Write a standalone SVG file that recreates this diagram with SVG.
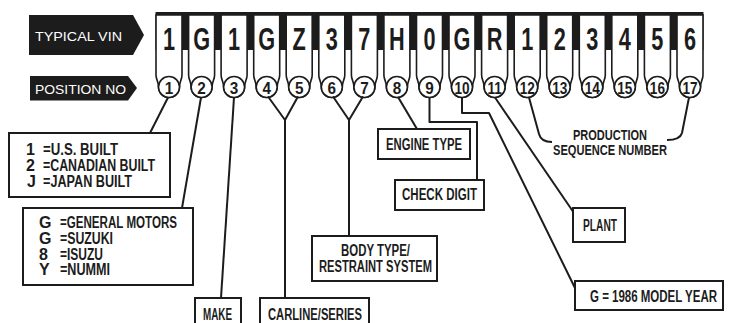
<svg xmlns="http://www.w3.org/2000/svg" width="729" height="323" viewBox="0 0 729 323">
<style>
.bg{fill:#ffffff}
.ink{fill:#1c1c1c}
.box{fill:#ffffff;stroke:#1c1c1c;stroke-width:2}
.cell{fill:#ffffff;stroke:#1c1c1c;stroke-width:1.6}
.circ{fill:#ffffff;stroke:#1c1c1c;stroke-width:1.6}
.ln{fill:none;stroke:#1c1c1c;stroke-width:2;stroke-linejoin:round}
.t{font-family:"Liberation Sans",Arial,sans-serif;font-weight:bold;font-size:16px;fill:#1c1c1c}
.big{font-family:"Liberation Sans",Arial,sans-serif;font-weight:bold;font-size:31px;fill:#1c1c1c;text-anchor:middle}
.num{font-family:"Liberation Sans",Arial,sans-serif;font-weight:bold;font-size:17px;fill:#1c1c1c;text-anchor:middle}
.lab{font-family:"Liberation Sans",Arial,sans-serif;font-size:12.5px;fill:#ffffff}
</style>
<defs>
<path id="cellShape" d="M-13,15 V75 C-13,80 -10.5,81 -10.5,87 A10.5,10.5 0 0 0 10.5,87 C10.5,81 13,80 13,75 V15 Z"/>
</defs>
<rect class="bg" x="0" y="0" width="729" height="323"/>

<g id="label-typical-vin">
<path class="ink" d="M29,15 H133 L144,35 L133,55 H29 Z"/>
<text class="lab" x="35" y="40.5" textLength="87" lengthAdjust="spacingAndGlyphs">TYPICAL VIN</text>
</g>
<g id="label-position-no">
<path class="ink" d="M30,76 H128 L137,88 L128,100.5 H30 Z"/>
<text class="lab" x="35" y="93.5" textLength="91" lengthAdjust="spacingAndGlyphs">POSITION NO</text>
</g>

<g id="vin-strip">
<rect class="ink" x="155.5" y="12" width="548" height="38"/>
<g id="pos1"><use href="#cellShape" class="cell" x="169"/><circle class="circ" cx="169" cy="87" r="10.5"/><text class="big" transform="translate(169 50) scale(0.7 1)">1</text><text class="num" transform="translate(169 93.8) scale(0.9 1)">1</text></g>
<g id="pos2"><use href="#cellShape" class="cell" x="201.6"/><circle class="circ" cx="201.6" cy="87" r="10.5"/><text class="big" transform="translate(201.6 50) scale(0.7 1)">G</text><text class="num" transform="translate(201.6 93.8) scale(0.9 1)">2</text></g>
<g id="pos3"><use href="#cellShape" class="cell" x="234.1"/><circle class="circ" cx="234.1" cy="87" r="10.5"/><text class="big" transform="translate(234.1 50) scale(0.7 1)">1</text><text class="num" transform="translate(234.1 93.8) scale(0.9 1)">3</text></g>
<g id="pos4"><use href="#cellShape" class="cell" x="266.7"/><circle class="circ" cx="266.7" cy="87" r="10.5"/><text class="big" transform="translate(266.7 50) scale(0.7 1)">G</text><text class="num" transform="translate(266.7 93.8) scale(0.9 1)">4</text></g>
<g id="pos5"><use href="#cellShape" class="cell" x="299.2"/><circle class="circ" cx="299.2" cy="87" r="10.5"/><text class="big" transform="translate(299.2 50) scale(0.7 1)">Z</text><text class="num" transform="translate(299.2 93.8) scale(0.9 1)">5</text></g>
<g id="pos6"><use href="#cellShape" class="cell" x="331.8"/><circle class="circ" cx="331.8" cy="87" r="10.5"/><text class="big" transform="translate(331.8 50) scale(0.7 1)">3</text><text class="num" transform="translate(331.8 93.8) scale(0.9 1)">6</text></g>
<g id="pos7"><use href="#cellShape" class="cell" x="364.4"/><circle class="circ" cx="364.4" cy="87" r="10.5"/><text class="big" transform="translate(364.4 50) scale(0.7 1)">7</text><text class="num" transform="translate(364.4 93.8) scale(0.9 1)">7</text></g>
<g id="pos8"><use href="#cellShape" class="cell" x="396.9"/><circle class="circ" cx="396.9" cy="87" r="10.5"/><text class="big" transform="translate(396.9 50) scale(0.7 1)">H</text><text class="num" transform="translate(396.9 93.8) scale(0.9 1)">8</text></g>
<g id="pos9"><use href="#cellShape" class="cell" x="429.5"/><circle class="circ" cx="429.5" cy="87" r="10.5"/><text class="big" transform="translate(429.5 50) scale(0.7 1)">0</text><text class="num" transform="translate(429.5 93.8) scale(0.9 1)">9</text></g>
<g id="pos10"><use href="#cellShape" class="cell" x="462"/><circle class="circ" cx="462" cy="87" r="10.5"/><text class="big" transform="translate(462 50) scale(0.7 1)">G</text><text class="num" transform="translate(462 93.8) scale(0.8 1)">10</text></g>
<g id="pos11"><use href="#cellShape" class="cell" x="494.6"/><circle class="circ" cx="494.6" cy="87" r="10.5"/><text class="big" transform="translate(494.6 50) scale(0.7 1)">R</text><text class="num" transform="translate(494.6 93.8) scale(0.8 1)">11</text></g>
<g id="pos12"><use href="#cellShape" class="cell" x="527.2"/><circle class="circ" cx="527.2" cy="87" r="10.5"/><text class="big" transform="translate(527.2 50) scale(0.7 1)">1</text><text class="num" transform="translate(527.2 93.8) scale(0.8 1)">12</text></g>
<g id="pos13"><use href="#cellShape" class="cell" x="559.7"/><circle class="circ" cx="559.7" cy="87" r="10.5"/><text class="big" transform="translate(559.7 50) scale(0.7 1)">2</text><text class="num" transform="translate(559.7 93.8) scale(0.8 1)">13</text></g>
<g id="pos14"><use href="#cellShape" class="cell" x="592.3"/><circle class="circ" cx="592.3" cy="87" r="10.5"/><text class="big" transform="translate(592.3 50) scale(0.7 1)">3</text><text class="num" transform="translate(592.3 93.8) scale(0.8 1)">14</text></g>
<g id="pos15"><use href="#cellShape" class="cell" x="624.8"/><circle class="circ" cx="624.8" cy="87" r="10.5"/><text class="big" transform="translate(624.8 50) scale(0.7 1)">4</text><text class="num" transform="translate(624.8 93.8) scale(0.8 1)">15</text></g>
<g id="pos16"><use href="#cellShape" class="cell" x="657.4"/><circle class="circ" cx="657.4" cy="87" r="10.5"/><text class="big" transform="translate(657.4 50) scale(0.7 1)">5</text><text class="num" transform="translate(657.4 93.8) scale(0.8 1)">16</text></g>
<g id="pos17"><use href="#cellShape" class="cell" x="690"/><circle class="circ" cx="690" cy="87" r="10.5"/><text class="big" transform="translate(690 50) scale(0.7 1)">6</text><text class="num" transform="translate(690 93.8) scale(0.8 1)">17</text></g>
</g>

<g id="connectors">
<path class="ln" d="M168,97.5 L150,133"/>
<path class="ln" d="M201,97.5 L182,208"/>
<path class="ln" d="M234,97.5 L221,298"/>
<path class="ln" d="M268,96.5 L285,120 L298,96.5 M285,120 V298"/>
<path class="ln" d="M333,96.5 L349,120 L363,96.5 M349,120 V236"/>
<path class="ln" d="M398,97 L417,129"/>
<path class="ln" d="M429.5,97.5 V122 H477 V180"/>
<path class="ln" d="M462,97.5 V113 H489 L575,288"/>
<path class="ln" d="M495,97.5 L574,213"/>
<path class="ln" d="M529,97.5 L539,134 Q541,142 552,142"/>
<path class="ln" d="M689,97.5 L682,133 Q680,140 667,140"/>
</g>

<g id="country-box">
<rect class="box" x="9" y="133" width="161" height="64"/>
<text class="t" x="26" y="155">1</text><text class="t" x="43" y="155" textLength="75" lengthAdjust="spacingAndGlyphs">=U.S. BUILT</text>
<text class="t" x="26" y="171">2</text><text class="t" x="43" y="171" textLength="112" lengthAdjust="spacingAndGlyphs">=CANADIAN BUILT</text>
<text class="t" x="27" y="187">J</text><text class="t" x="43" y="187" textLength="89" lengthAdjust="spacingAndGlyphs">=JAPAN BUILT</text>
</g>

<g id="manufacturer-box">
<rect class="box" x="23" y="208" width="170" height="77"/>
<text class="t" x="39" y="228">G</text><text class="t" x="60" y="228" textLength="117" lengthAdjust="spacingAndGlyphs">=GENERAL MOTORS</text>
<text class="t" x="39" y="244">G</text><text class="t" x="60" y="244" textLength="53" lengthAdjust="spacingAndGlyphs">=SUZUKI</text>
<text class="t" x="39" y="260">8</text><text class="t" x="60" y="260" textLength="43" lengthAdjust="spacingAndGlyphs">=ISUZU</text>
<text class="t" x="39" y="275">Y</text><text class="t" x="60" y="275" textLength="50" lengthAdjust="spacingAndGlyphs">=NUMMI</text>
</g>

<g id="make-box">
<rect class="box" x="195" y="298" width="46" height="40"/>
<text class="t" x="203" y="320" textLength="29" lengthAdjust="spacingAndGlyphs">MAKE</text>
</g>

<g id="carline-box">
<rect class="box" x="260" y="298" width="109" height="40"/>
<text class="t" x="268" y="320" textLength="94" lengthAdjust="spacingAndGlyphs">CARLINE/SERIES</text>
</g>

<g id="body-box">
<rect class="box" x="312" y="236" width="125" height="45"/>
<text class="t" x="341" y="256" textLength="69" lengthAdjust="spacingAndGlyphs">BODY TYPE/</text>
<text class="t" x="319" y="272" textLength="113" lengthAdjust="spacingAndGlyphs">RESTRAINT SYSTEM</text>
</g>

<g id="engine-box">
<rect class="box" x="378" y="129" width="92" height="30"/>
<text class="t" x="386" y="150" textLength="76" lengthAdjust="spacingAndGlyphs">ENGINE TYPE</text>
</g>

<g id="check-box">
<rect class="box" x="395" y="180" width="89" height="30"/>
<text class="t" x="402" y="200" textLength="75" lengthAdjust="spacingAndGlyphs">CHECK DIGIT</text>
</g>

<g id="production-label">
<text class="t" x="573" y="140" style="font-size:15px" textLength="74" lengthAdjust="spacingAndGlyphs">PRODUCTION</text>
<text class="t" x="553" y="155" style="font-size:15px" textLength="114" lengthAdjust="spacingAndGlyphs">SEQUENCE NUMBER</text>
</g>

<g id="plant-box">
<rect class="box" x="573" y="208" width="52" height="34"/>
<text class="t" x="583" y="231" textLength="34" lengthAdjust="spacingAndGlyphs">PLANT</text>
</g>

<g id="year-box">
<rect class="box" x="575" y="281" width="148" height="29"/>
<text class="t" x="590" y="302" textLength="127" lengthAdjust="spacingAndGlyphs">G = 1986 MODEL YEAR</text>
</g>
</svg>
